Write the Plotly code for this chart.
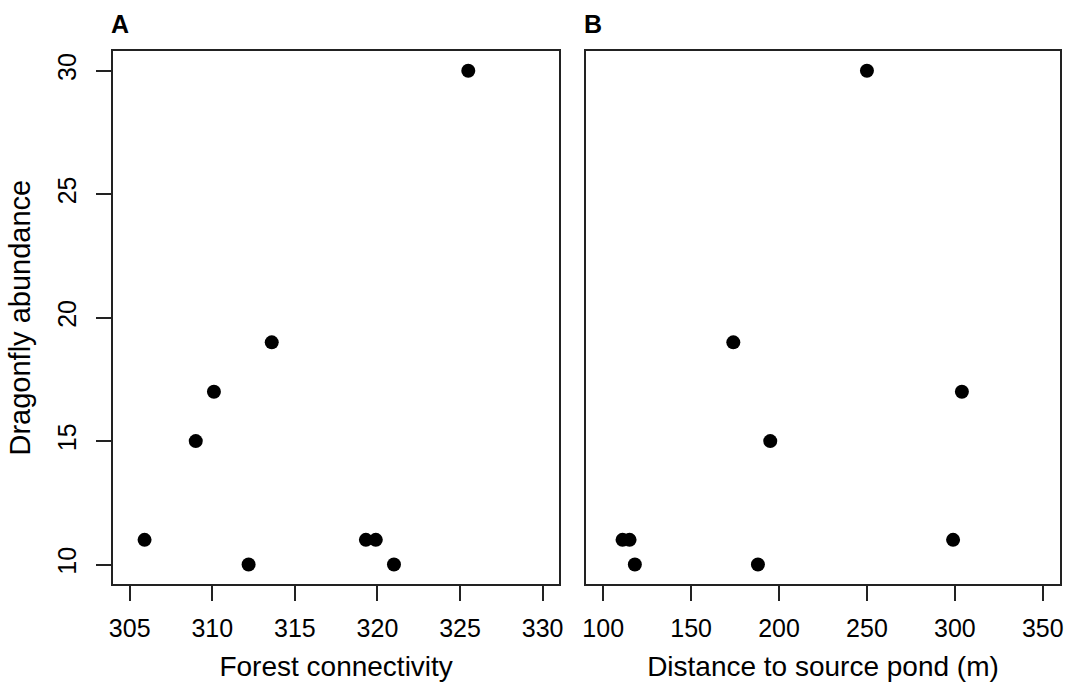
import plotly.graph_objects as go

# Panel A: forest connectivity vs dragonfly abundance
forest_conn = [325.5, 313.6, 310.1, 309.0, 305.9, 319.3, 319.9, 312.2, 321.0]
abund_a = [30, 19, 17, 15, 11, 11, 11, 10, 10]

# Panel B: distance to source pond vs dragonfly abundance
distance = [250, 174, 304, 195, 111, 115, 299, 118, 188]
abund_b = [30, 19, 17, 15, 11, 11, 11, 10, 10]

xticks_a = [305, 310, 315, 320, 325, 330]
xticks_b = [100, 150, 200, 250, 300, 350]
yticks = [10, 15, 20, 25, 30]

W, H = 1071, 682
FONT = "Liberation Sans, Arial, Helvetica, sans-serif"
LINE = "#222222"

fig = go.Figure()
marker = dict(color="black", size=14, line=dict(width=0))
fig.add_trace(go.Scatter(x=forest_conn, y=abund_a, mode="markers", marker=marker,
                         xaxis="x", yaxis="y", showlegend=False))
fig.add_trace(go.Scatter(x=distance, y=abund_b, mode="markers", marker=marker,
                         xaxis="x2", yaxis="y2", showlegend=False))

ydom = [1 - 584.3 / H, 1 - 51 / H]
axis_common = dict(showgrid=False, zeroline=False, showline=True, mirror=True,
                   linecolor=LINE, linewidth=2, ticks="outside", ticklen=15,
                   tickwidth=1.6, tickcolor=LINE,
                   tickfont=dict(family=FONT, size=25, color="black"))

fig.update_layout(
    width=W, height=H,
    margin=dict(l=0, r=0, t=0, b=0),
    paper_bgcolor="white", plot_bgcolor="white",
    font=dict(family=FONT, color="black"),
    xaxis=dict(domain=[110 / W, 559.3 / W], range=[304, 331], tickvals=xticks_a,
               ticklabelstandoff=6,
               title=dict(text="Forest connectivity", font=dict(size=28), standoff=16),
               anchor="y", **axis_common),
    yaxis=dict(domain=ydom, range=[9.2, 30.8], tickvals=yticks, tickangle=-90,
               ticklabelstandoff=10,
               title=dict(text="Dragonfly abundance", font=dict(size=29), standoff=14),
               anchor="x", **axis_common),
    xaxis2=dict(domain=[586 / W, 1064.3 / W], range=[90, 360], tickvals=xticks_b,
                ticklabelstandoff=6,
                title=dict(text="Distance to source pond (m)", font=dict(size=28), standoff=16),
                anchor="y2", **axis_common),
    yaxis2=dict(domain=ydom, range=[9.2, 30.8], tickvals=yticks, showticklabels=False,
                anchor="x2", **{**axis_common, "ticks": ""}),
)

fig.add_annotation(text="<b>A</b>", x=106 / W, y=1 - 24 / H, xref="paper", yref="paper",
                   xanchor="left", yanchor="middle", showarrow=False,
                   font=dict(family=FONT, size=25, color="black"))
fig.add_annotation(text="<b>B</b>", x=582 / W, y=1 - 24 / H, xref="paper", yref="paper",
                   xanchor="left", yanchor="middle", showarrow=False,
                   font=dict(family=FONT, size=25, color="black"))

fig.write_html("out.html", config={"displayModeBar": False},
               post_script="document.body.style.margin='0px';")
